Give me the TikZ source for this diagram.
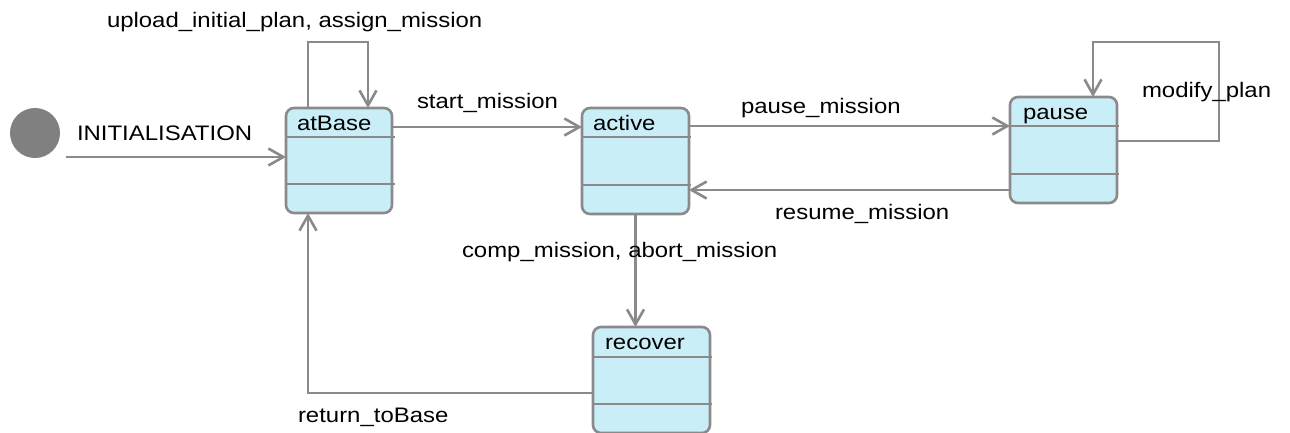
\documentclass[tikz,border=0pt]{standalone}
\usepackage{fontspec}
\setmainfont{Liberation Sans}[FakeStretch=1.14]
\usetikzlibrary{arrows.meta,calc}
\definecolor{edgegray}{HTML}{8A8A8A}
\definecolor{stateblue}{HTML}{C9EEF8}
\definecolor{dotgray}{HTML}{808080}
\begin{document}
\begin{tikzpicture}[x=1pt,y=-1pt,
  every node/.style={font=\fontsize{21}{25}\selectfont, inner sep=0pt, outer sep=0pt},
  statebox/.style={draw=edgegray, line width=2.6pt, rounded corners=8pt, fill=stateblue, minimum width=106pt, minimum height=105pt, anchor=north west},
  sep/.style={draw=edgegray, line width=2.4pt},
  edge/.style={draw=edgegray, line width=2.6pt, -{Straight Barb[length=15pt,width=17pt]}},
  lbl/.style={anchor=base west, text=black}]
\useasboundingbox (0,0) rectangle (1290,432);

% initial state
\node[circle, fill=dotgray, minimum size=50pt] (init) at (35,133) {};

% states
\node[statebox] (atBase) at (286,108) {};
\node[statebox, minimum width=107pt, minimum height=106pt] (active) at (582,108) {};
\node[statebox, minimum width=107pt, minimum height=106pt] (pause) at (1010,97) {};
\node[statebox, minimum width=117pt, minimum height=106pt] (recover) at (593,327) {};

% compartments
\draw[sep] ($(atBase.north west)+(0,29)$) -- ($(atBase.north east)+(3,29)$);
\draw[sep] ($(atBase.north west)+(0,76)$) -- ($(atBase.north east)+(3,76)$);
\draw[sep] ($(active.north west)+(0,29)$) -- ($(active.north east)+(2,29)$);
\draw[sep] ($(active.north west)+(0,77)$) -- ($(active.north east)+(2,77)$);
\draw[sep] ($(pause.north west)+(0,29)$) -- ($(pause.north east)+(2,29)$);
\draw[sep] ($(pause.north west)+(0,77)$) -- ($(pause.north east)+(2,77)$);
\draw[sep] ($(recover.north west)+(0,30)$) -- ($(recover.north east)+(2,30)$);
\draw[sep] ($(recover.north west)+(0,77)$) -- ($(recover.north east)+(2,77)$);

% state names
\node[lbl] (nAtBase) at (297,130) {atBase};
\node[lbl] (nActive) at (593,130) {active};
\node[lbl] (nPause) at (1023,119) {pause};
\node[lbl] (nRecover) at (605,349) {recover};

% transitions
\coordinate (i0) at (66,157);
\draw[edge] (i0) -- (i0 -| atBase.west);

\draw[edge] ($(atBase.north west)+(22,0)$) -- ++(0,-66) -- ++(60,0) -- ++(0,66);

\coordinate (s0) at ($(atBase.north east)+(0,19)$);
\draw[edge] (s0) -- (s0 -| active.west);

\coordinate (p0) at ($(active.north east)+(0,18)$);
\draw[edge] (p0) -- (p0 -| pause.west);

\coordinate (r0) at ($(pause.north west)+(0,93)$);
\draw[edge] (r0) -- (r0 -| active.east);

\draw[edge] ($(pause.north east)+(0,44)$) -- ++(102,0) -- ++(0,-99) -- ++(-126,0) -- ++(0,55);

\draw[edge] (active.south) -- (active.south |- recover.north);

\draw[edge] ($(recover.north west)+(0,66)$) -| ($(atBase.south west)+(22,0)$);

% transition labels
\node[lbl] (lInit) at (77,140) {INITIALISATION};
\node[lbl] (lUpload) at (107,27) {upload\_initial\_plan, assign\_mission};
\node[lbl] (lStart) at (417,108) {start\_mission};
\node[lbl] (lPause) at (741,113) {pause\_mission};
\node[lbl] (lResume) at (775,219) {resume\_mission};
\node[lbl] (lModify) at (1142,97) {modify\_plan};
\node[lbl] (lComp) at (462,257) {comp\_mission, abort\_mission};
\node[lbl] (lReturn) at (298,422) {return\_toBase};
\end{tikzpicture}
\end{document}
